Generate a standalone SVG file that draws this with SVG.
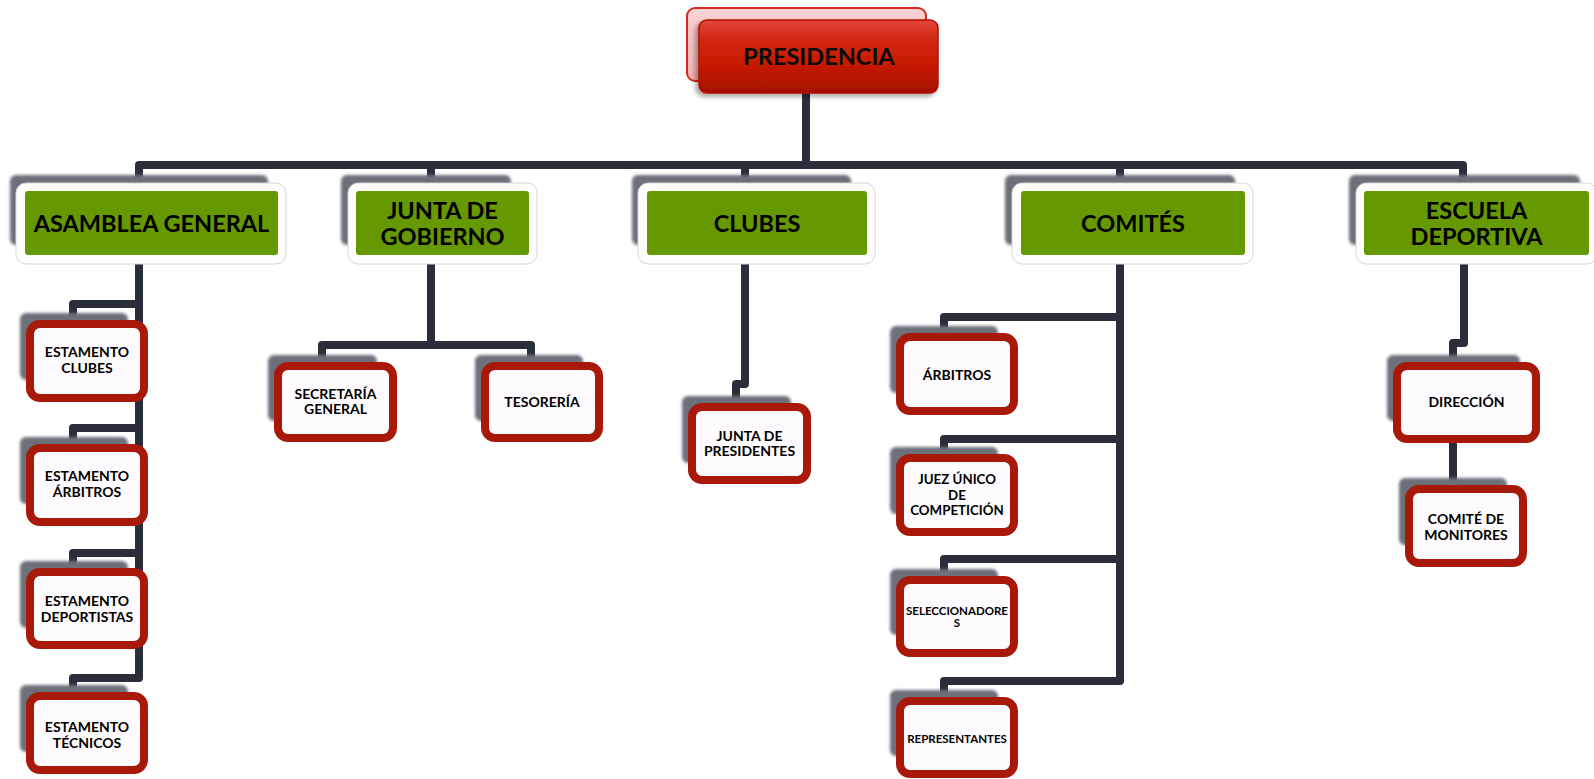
<svg xmlns="http://www.w3.org/2000/svg" width="1594" height="779" viewBox="0 0 1594 779">
<defs>
<filter id="blur" x="-10%" y="-20%" width="120%" height="140%"><feGaussianBlur stdDeviation="1.6"/></filter>
<filter id="ds" x="-10%" y="-20%" width="125%" height="150%"><feGaussianBlur in="SourceAlpha" stdDeviation="2.5"/><feOffset dx="-3" dy="3"/><feComponentTransfer><feFuncA type="linear" slope="0.35"/></feComponentTransfer><feMerge><feMergeNode/><feMergeNode in="SourceGraphic"/></feMerge></filter>
<linearGradient id="redg" x1="0" y1="0" x2="0" y2="1">
<stop offset="0" stop-color="#e2473a"/><stop offset="0.25" stop-color="#d22a14"/><stop offset="0.6" stop-color="#c71a00"/><stop offset="1" stop-color="#a51000"/>
</linearGradient>
<linearGradient id="pinkg" x1="0" y1="0" x2="0" y2="1">
<stop offset="0" stop-color="#fbd3d3"/><stop offset="1" stop-color="#f2b0b0"/>
</linearGradient>
</defs>
<style>
.conn{fill:none;stroke:#2a2e3a;stroke-width:8;stroke-linejoin:round;stroke-linecap:butt}
.sh{fill:#6c6f79;filter:url(#blur)}
.wb{fill:#ffffff;stroke:#d6d6d6;stroke-width:1}
.gb{fill:#669900}
.rb{fill:#fdfbfd;stroke:#a8190a;stroke-width:8}
.t0{font-family:Lato,"Liberation Sans",sans-serif;font-weight:700;font-size:23.5px;text-anchor:middle;fill:#0a0a0a}
.t1{font-family:Lato,"Liberation Sans",sans-serif;font-weight:700;font-size:23.5px;text-anchor:middle;fill:#000}
.t2{font-family:Lato,"Liberation Sans",sans-serif;font-weight:700;font-size:14px;text-anchor:middle;fill:#000}
.t3{font-family:Lato,"Liberation Sans",sans-serif;font-weight:700;font-size:11.5px;text-anchor:middle;fill:#000}
</style>
<rect width="1594" height="779" fill="#ffffff"/>

<g id="connectors">
<path class="conn" d="M806,93 V165"/>
<path class="conn" d="M139,190 V165 H1463 V190"/>
<path class="conn" d="M431,165 V190"/>
<path class="conn" d="M745,165 V190"/>
<path class="conn" d="M1120,165 V190"/>
<path class="conn" d="M139,260 V678 H73 V700"/>
<path class="conn" d="M139,304 H73 V325"/>
<path class="conn" d="M139,428 H73 V449"/>
<path class="conn" d="M139,553 H73 V573"/>
<path class="conn" d="M431,260 V345"/>
<path class="conn" d="M322,368 V345 H531 V368"/>
<path class="conn" d="M745,260 V384 H736 V408"/>
<path class="conn" d="M1120,260 V681 H944 V702"/>
<path class="conn" d="M1120,317 H944 V338"/>
<path class="conn" d="M1120,439 H944 V460"/>
<path class="conn" d="M1120,559 H944 V580"/>
<path class="conn" d="M1464,260 V343 H1453 V490"/>
</g>

<g id="presidencia">
<rect x="687" y="8" width="239" height="73" rx="8" fill="url(#pinkg)" stroke="#d82a22" stroke-width="2"/>
<rect x="699" y="20" width="239" height="73" rx="8" fill="url(#redg)" stroke="#b01200" stroke-width="1.5" filter="url(#ds)"/>
<text class="t0" x="819" y="65">PRESIDENCIA</text>
</g>

<g id="asamblea-general">
<rect class="sh" x="10" y="175" width="258" height="70" rx="6"/>
<rect class="wb" x="16" y="183" width="270" height="81" rx="10"/>
<rect class="gb" x="25" y="191" width="253" height="64" rx="3"/>
<text class="t1" x="151.5" y="232">ASAMBLEA GENERAL</text>
</g>

<g id="junta-de-gobierno">
<rect class="sh" x="341" y="175" width="170" height="70" rx="6"/>
<rect class="wb" x="348" y="183" width="189" height="81" rx="10"/>
<rect class="gb" x="356" y="191" width="173" height="64" rx="3"/>
<text class="t1" x="442.5" y="219">JUNTA DE</text>
<text class="t1" x="442.5" y="245">GOBIERNO</text>
</g>

<g id="clubes">
<rect class="sh" x="632" y="175" width="219" height="70" rx="6"/>
<rect class="wb" x="638" y="183" width="237" height="81" rx="10"/>
<rect class="gb" x="647" y="191" width="220" height="64" rx="3"/>
<text class="t1" x="757" y="232">CLUBES</text>
</g>

<g id="comites">
<rect class="sh" x="1005" y="175" width="230" height="70" rx="6"/>
<rect class="wb" x="1012" y="183" width="241" height="81" rx="10"/>
<rect class="gb" x="1021" y="191" width="224" height="64" rx="3"/>
<text class="t1" x="1133" y="232">COMITÉS</text>
</g>

<g id="escuela-deportiva">
<rect class="sh" x="1349" y="175" width="231" height="70" rx="6"/>
<rect class="wb" x="1356" y="183" width="241" height="81" rx="10"/>
<rect class="gb" x="1364" y="191" width="225" height="64" rx="3"/>
<text class="t1" x="1476.5" y="219">ESCUELA</text>
<text class="t1" x="1476.5" y="245">DEPORTIVA</text>
</g>

<g id="estamento-clubes">
<rect class="sh" x="20" y="313" width="108" height="67" rx="6"/>
<rect class="rb" x="30" y="324" width="114" height="74" rx="10"/>
<text class="t2" x="87" y="357">ESTAMENTO</text>
<text class="t2" x="87" y="373">CLUBES</text>
</g>

<g id="estamento-arbitros">
<rect class="sh" x="20" y="437" width="108" height="67" rx="6"/>
<rect class="rb" x="30" y="448" width="114" height="74" rx="10"/>
<text class="t2" x="87" y="481">ESTAMENTO</text>
<text class="t2" x="87" y="497">ÁRBITROS</text>
</g>

<g id="estamento-deportistas">
<rect class="sh" x="20" y="561" width="108" height="67" rx="6"/>
<rect class="rb" x="30" y="572" width="114" height="73" rx="10"/>
<text class="t2" x="87" y="606">ESTAMENTO</text>
<text class="t2" x="87" y="622">DEPORTISTAS</text>
</g>

<g id="estamento-tecnicos">
<rect class="sh" x="20" y="685" width="108" height="67" rx="6"/>
<rect class="rb" x="30" y="696" width="114" height="74" rx="10"/>
<text class="t2" x="87" y="732">ESTAMENTO</text>
<text class="t2" x="87" y="748">TÉCNICOS</text>
</g>

<g id="secretaria-general">
<rect class="sh" x="268" y="355" width="109" height="66" rx="6"/>
<rect class="rb" x="278" y="366" width="115" height="72" rx="10"/>
<text class="t2" x="335.5" y="399">SECRETARÍA</text>
<text class="t2" x="335.5" y="414">GENERAL</text>
</g>

<g id="tesoreria">
<rect class="sh" x="475" y="355" width="108" height="66" rx="6"/>
<rect class="rb" x="485" y="366" width="114" height="72" rx="10"/>
<text class="t2" x="542" y="407">TESORERÍA</text>
</g>

<g id="junta-de-presidentes">
<rect class="sh" x="682" y="396" width="109" height="67" rx="6"/>
<rect class="rb" x="692" y="407" width="115" height="73" rx="10"/>
<text class="t2" x="749.5" y="441">JUNTA DE</text>
<text class="t2" x="749.5" y="456">PRESIDENTES</text>
</g>

<g id="arbitros">
<rect class="sh" x="890" y="326" width="108" height="67" rx="6"/>
<rect class="rb" x="900" y="337" width="114" height="74" rx="10"/>
<text class="t2" x="957" y="380">ÁRBITROS</text>
</g>

<g id="juez-unico">
<rect class="sh" x="890" y="447" width="108" height="67" rx="6"/>
<rect class="rb" x="900" y="458" width="114" height="74" rx="10"/>
<text class="t2" x="957" y="484" style="font-size:13.3px">JUEZ ÚNICO</text>
<text class="t2" x="957" y="500" style="font-size:13.3px">DE</text>
<text class="t2" x="957" y="515" style="font-size:13.3px">COMPETICIÓN</text>
</g>

<g id="seleccionadores">
<rect class="sh" x="890" y="569" width="108" height="66" rx="6"/>
<rect class="rb" x="900" y="580" width="114" height="73" rx="10"/>
<text class="t3" x="957" y="615">SELECCIONADORE</text>
<text class="t3" x="957" y="627">S</text>
</g>

<g id="representantes">
<rect class="sh" x="890" y="690" width="108" height="66" rx="6"/>
<rect class="rb" x="900" y="701" width="114" height="73" rx="10"/>
<text class="t3" x="957" y="743">REPRESENTANTES</text>
</g>

<g id="direccion">
<rect class="sh" x="1387" y="355" width="133" height="66" rx="6"/>
<rect class="rb" x="1397" y="366" width="139" height="73" rx="10"/>
<text class="t2" x="1466.5" y="407">DIRECCIÓN</text>
</g>

<g id="comite-de-monitores">
<rect class="sh" x="1399" y="478" width="108" height="67" rx="6"/>
<rect class="rb" x="1409" y="489" width="114" height="74" rx="10"/>
<text class="t2" x="1466" y="524">COMITÉ DE</text>
<text class="t2" x="1466" y="540">MONITORES</text>
</g>
</svg>
